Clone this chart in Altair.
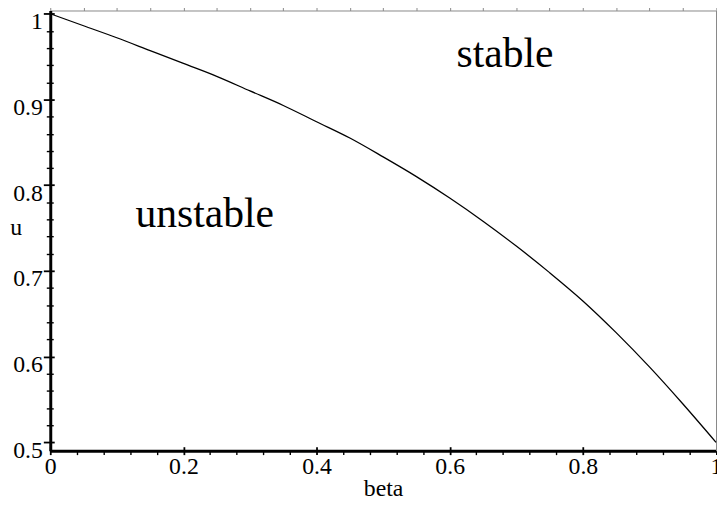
import altair as alt
import pandas as pd

# curve
beta = [0.0, 0.05, 0.1, 0.15, 0.2, 0.25, 0.3, 0.35, 0.4, 0.45, 0.5,
        0.55, 0.6, 0.65, 0.7, 0.75, 0.8, 0.85, 0.9, 0.95, 1.0]
u = [1.000, 0.986, 0.972, 0.957, 0.942, 0.927, 0.910, 0.893, 0.874, 0.855, 0.833,
     0.810, 0.785, 0.758, 0.729, 0.698, 0.665, 0.628, 0.588, 0.545, 0.500]

x_major = [0, 0.2, 0.4, 0.6, 0.8, 1]
x_minor = [0.04, 0.08, 0.12, 0.16, 0.24, 0.28, 0.32, 0.36, 0.44, 0.48, 0.52, 0.56,
           0.64, 0.68, 0.72, 0.76, 0.84, 0.88, 0.92, 0.96]
y_major = [0.5, 0.6, 0.7, 0.8, 0.9, 1]
y_minor = [0.52, 0.54, 0.56, 0.58, 0.62, 0.64, 0.66, 0.68, 0.72, 0.74, 0.76, 0.78,
           0.82, 0.84, 0.86, 0.88, 0.92, 0.94, 0.96, 0.98]

ann_text = ["stable", "unstable"]
ann_beta = [0.683, 0.232]
ann_u = [0.938, 0.7513]

df = pd.DataFrame({"beta": beta, "u": u})
ann = pd.DataFrame({"t": ann_text, "beta": ann_beta, "u": ann_u})

FONT = "Liberation Serif"
xs = alt.Scale(domain=[0, 1], nice=False, zero=False)
ys = alt.Scale(domain=[0.4903, 1.0038], nice=False, zero=False)

line = alt.Chart(df).mark_line(color="black", strokeWidth=1.3, interpolate="monotone").encode(
    x=alt.X("beta:Q", scale=xs, axis=alt.Axis(
        orient="bottom", values=x_major, format="~g", ticks=False, grid=False,
        domainColor="black", domainWidth=3, labelFont=FONT, labelFontSize=24,
        labelColor="black", labelPadding=4, labelBaseline="top", labelFlush=False,
        labelOverlap=False, title="beta", titleFont=FONT, titleFontSize=24,
        titleFontWeight="normal", titleColor="black", titleBaseline="alphabetic",
        titleY=45)),
    y=alt.Y("u:Q", scale=ys, axis=alt.Axis(
        orient="left", values=y_major, format="~g", ticks=False, grid=False,
        domainColor="black", domainWidth=3, labelFont=FONT, labelFontSize=24,
        labelColor="black", labelPadding=8, labelBaseline="alphabetic",
        labelOffset=15, labelOverlap=False, labelFlush=False,
        title="u", titleFont=FONT, titleFontSize=24, titleFontWeight="normal",
        titleColor="black", titleAngle=0, titleAlign="center",
        titleBaseline="middle", titleX=-35, titleY=219)),
)


def tick_layer(xv, yv, xoff, xsize, xw, yoff, ysize, yw):
    return alt.Chart(df).mark_point(opacity=0).encode(
        x=alt.X("beta:Q", scale=xs, axis=alt.Axis(
            orient="bottom", values=xv, labels=False, domain=False, grid=False,
            ticks=True, tickColor="black", tickSize=xsize, tickWidth=xw,
            offset=xoff, title=None)),
        y=alt.Y("u:Q", scale=ys, axis=alt.Axis(
            orient="left", values=yv, labels=False, domain=False, grid=False,
            ticks=True, tickColor="black", tickSize=ysize, tickWidth=yw,
            offset=yoff, title=None)),
    )


major = tick_layer(x_major, y_major, -4, 8, 1.8, -4, 11, 1.8)
minor = tick_layer(x_minor, y_minor, -1, 5, 1.4, -3, 7, 1.4)

labels = alt.Chart(ann).mark_text(
    font=FONT, fontSize=42, color="black", align="center", baseline="alphabetic"
).encode(x=alt.X("beta:Q", scale=xs), y=alt.Y("u:Q", scale=ys), text="t:N")

chart = alt.layer(line, major, minor, labels).resolve_axis(
    x="independent", y="independent"
).properties(
    width=672.6, height=444.7,
    autosize=alt.AutoSizeParams(type="none"),
    padding={"left": 42.7, "top": 0, "right": 1, "bottom": 45.3},
).configure_view(stroke=None).configure_axis(
    labelFont=FONT, titleFont=FONT, labelFontSize=24, titleFontSize=24,
    labelColor="black", titleColor="black", titleFontWeight="normal",
).configure_text(font=FONT)

chart.save("out.html", embed_options={"renderer": "svg", "actions": False})
